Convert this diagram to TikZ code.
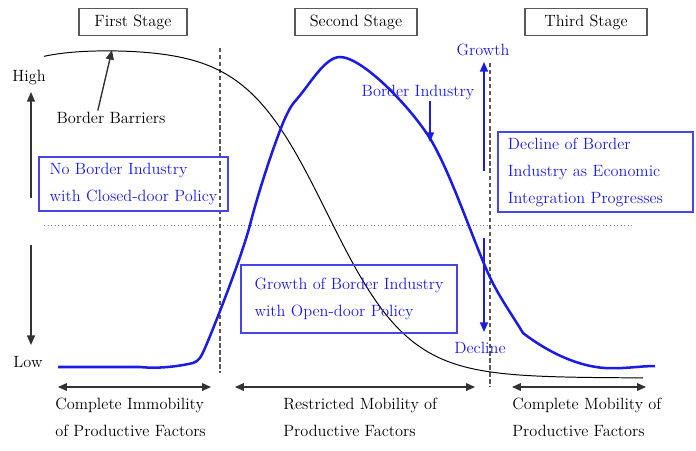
\documentclass[tikz,border=0pt]{standalone}
\usetikzlibrary{positioning,arrows.meta}
\definecolor{bordblue}{HTML}{1C1CE0}
\definecolor{frameblue}{HTML}{4646E6}
\newcommand{\figfont}{\fontsize{11.6}{19.2}\selectfont}
\tikzset{
  stagebox/.style={draw=black!65, line width=0.9pt, minimum height=0.675cm,
    inner sep=0pt, font=\figfont},
  plainlab/.style={font=\figfont, inner sep=1pt},
  bluelab/.style={font=\figfont, text=bordblue, inner sep=1pt},
  bluebox/.style={draw=frameblue, line width=0.8pt, text=bordblue, align=left,
    font=\figfont, inner sep=0pt},
  factlab/.style={font=\figfont, align=left, anchor=west, inner sep=0pt},
  axarr/.style={-{Triangle[length=2.4mm,width=2mm]}, line width=1pt, draw=black!80},
  bluearr/.style={-{Triangle[length=2.4mm,width=2mm]}, line width=1pt, draw=bordblue},
  spanarr/.style={{Triangle[length=2.2mm,width=1.9mm]}-{Triangle[length=2.2mm,width=1.9mm]},
    line width=0.9pt, draw=black!80},
  stageline/.style={draw=black!65, line width=0.9pt, dash pattern=on 3pt off 2pt},
  midline/.style={draw=black!50, line width=0.5pt, dotted},
  barcurve/.style={draw=black, line width=0.7pt},
  indcurve/.style={draw=bordblue, line width=1.8pt, line join=round},
}

\begin{document}
\begin{tikzpicture}[x=0.025cm, y=-0.025cm]
  \useasboundingbox (0,0) rectangle (696,450);

  \node[stagebox, minimum width=2.7cm] (first) at (133,22) {First Stage};
  \node[stagebox, minimum width=3.05cm] (second) at (356,22) {Second Stage};
  \node[stagebox, minimum width=3.05cm] (third) at (586,22) {Third Stage};

  \draw[midline] (44,225) -- (633,225);
  \draw[stageline] (220,48) -- (220,373);
  \draw[stageline] (490,63) -- (490,387);

  \node[plainlab] (high) at (29,78) {High};
  \node[plainlab] (low) at (28,362) {Low};
  \coordinate (highbot) at (31,198);
  \coordinate (hightop) at (31,92);
  \coordinate (lowtop) at (31,245);
  \coordinate (lowbot) at (31,345);
  \draw[axarr] (highbot) -- (hightop);
  \draw[axarr] (lowtop) -- (lowbot);

  \draw[barcurve] plot[smooth, domain=44:643, samples=90]
    (\x, {48 + 330/(1+exp(-(\x-327)/41.1)) + 8*exp(-(\x-44)/35)});

  \draw[indcurve] (58,367) -- (140,367)
    .. controls (160,369) and (180,366) .. (193,363)
    .. controls (199,361) and (201,357) .. (205,348)
    .. controls (212,332) and (240,262) .. (250,225)
    .. controls (257,197) and (272,150) .. (283,123)
    .. controls (288,111) and (292,104) .. (297,99)
    .. controls (310,84) and (325,57) .. (340,57)
    .. controls (362,57) and (410,106) .. (431,140)
    .. controls (451,174) and (472,237) .. (488,273)
    .. controls (498,295.5) and (511,313) .. (523,333)
    .. controls (545,350) and (575,366) .. (605,368)
    .. controls (625,369) and (640,366) .. (655,366);

  \node[plainlab] (barrier) at (111,118) {Border Barriers};
  \coordinate (barriertip) at (112,50);
  \draw[axarr] ([xshift=-0.33cm]barrier.north) -- (barriertip);

  \node[bluebox, minimum width=4.725cm, minimum height=1.35cm] (closed) at (133.5,184)
    {No Border Industry\\with Closed-door Policy};
  \node[bluebox, minimum width=5.4cm, minimum height=1.7cm] (open) at (349,299)
    {Growth of Border Industry\\with Open-door Policy};
  \node[bluebox, text width=4.375cm, inner xsep=0.25cm, minimum height=2cm] (integ)
    at (595.5,172) {Decline of Border\\Industry as Economic\\Integration Progresses};

  \node[bluelab] (growth) at (483,50) {Growth};
  \node[bluelab] (bordind) at (418,92) {Border Industry};
  \node[bluelab] (decline) at (480,348) {Decline};
  \coordinate (growthbot) at (484,171);
  \coordinate (growthtop) at (484,62);
  \coordinate (bordindtip) at (430,142);
  \coordinate (declinetop) at (484,238);
  \coordinate (declinetip) at (484,332);
  \draw[bluearr] (growthbot) -- (growthtop);
  \draw[bluearr] (bordind.south -| bordindtip) -- (bordindtip);
  \draw[bluearr] (declinetop) -- (declinetip);

  \coordinate (immobl) at (58,387);
  \coordinate (immobr) at (211,387);
  \coordinate (restrl) at (235,387);
  \coordinate (restrr) at (475,387);
  \coordinate (mobl) at (512,387);
  \coordinate (mobr) at (646,387);
  \draw[spanarr] (immobl) -- (immobr);
  \draw[spanarr] (restrl) -- (restrr);
  \draw[spanarr] (mobl) -- (mobr);

  \node[factlab] (immob) at (55,417) {Complete Immobility\\of Productive Factors};
  \node[factlab] (restr) at (283,417) {Restricted Mobility of\\Productive Factors};
  \node[factlab] (mob) at (512,417) {Complete Mobility of\\Productive Factors};
\end{tikzpicture}
\end{document}
